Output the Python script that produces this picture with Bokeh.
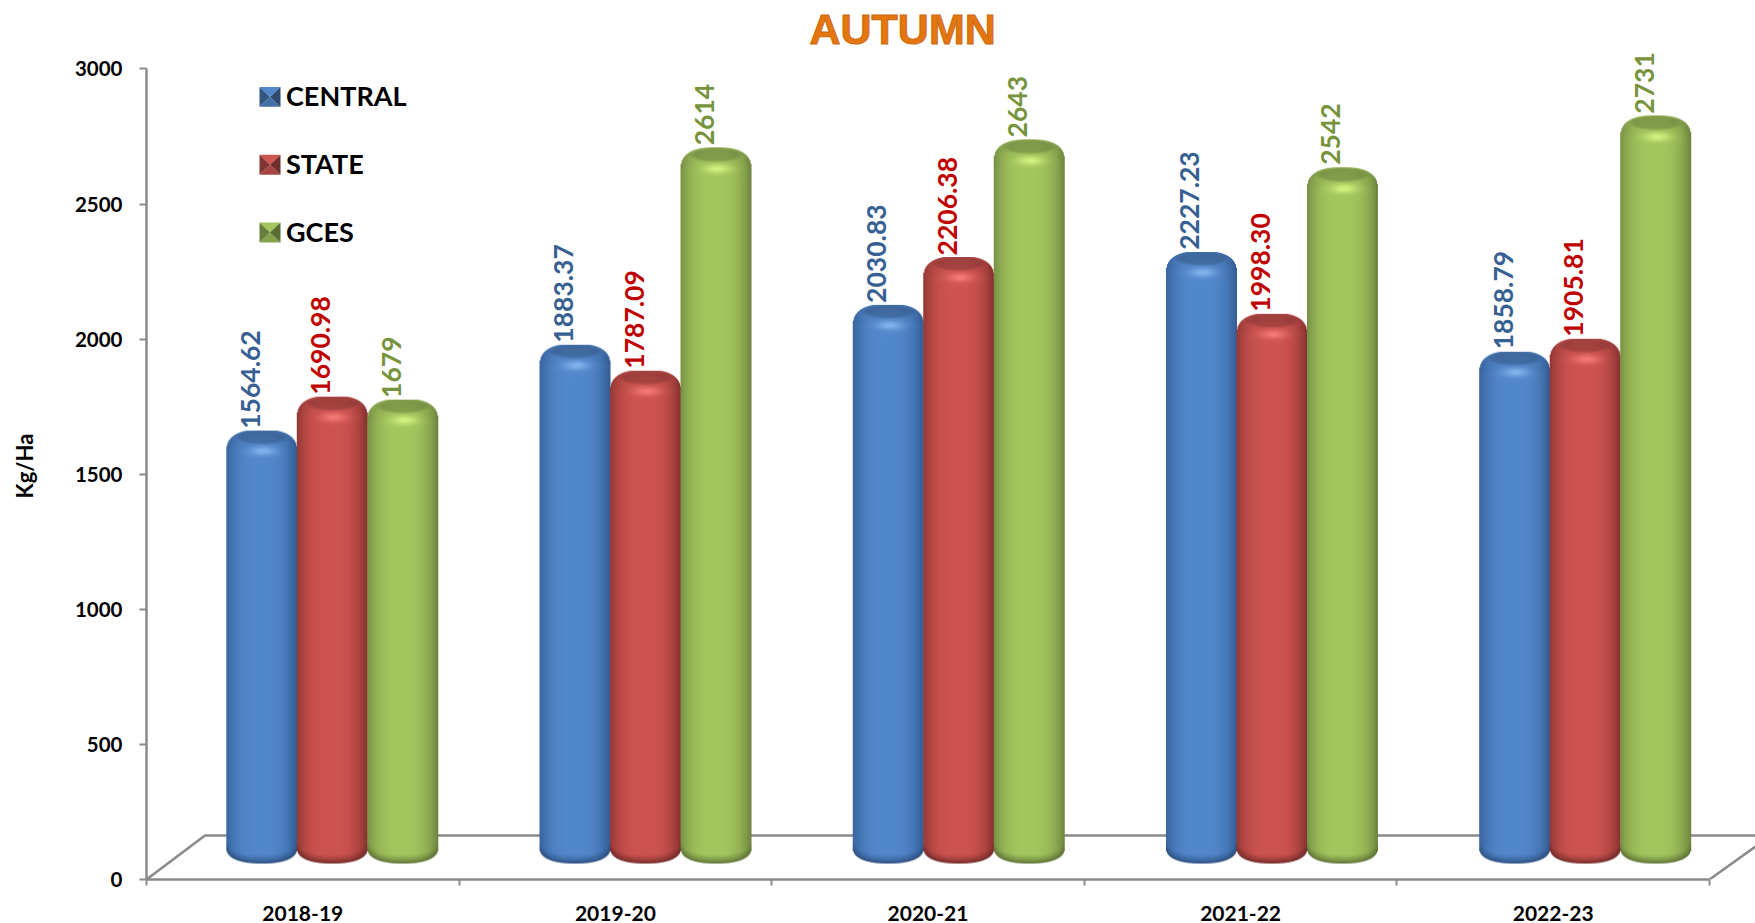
import numpy as np
from bokeh.plotting import figure
from bokeh.models import (ColumnDataSource, FixedTicker, Legend, LegendItem, Range1d, Title)
from bokeh.core.properties import value
from bokeh.embed import file_html
from bokeh.resources import INLINE

years = ["2018-19", "2019-20", "2020-21", "2021-22", "2022-23"]
central = [1564.62, 1883.37, 2030.83, 2227.23, 1858.79]
state = [1690.98, 1787.09, 2206.38, 1998.30, 1905.81]
gces = [1679, 2614, 2643, 2542, 2731]
central_labels = ["1564.62", "1883.37", "2030.83", "2227.23", "1858.79"]
state_labels = ["1690.98", "1787.09", "2206.38", "1998.30", "1905.81"]
gces_labels = ["1679", "2614", "2643", "2542", "2731"]
y_ticks = [0, 500, 1000, 1500, 2000, 2500, 3000]

FONT = "Lato"
W, H = 1755, 923
ML, MT = 146, 52
BASE = 881            # px of the zero line
MB = H - BASE
PX_X = 312.6          # px per category
PX_Y = (BASE - 68.5) / 3000.0   # px per value unit
AXIS = "#8a8a8a"

p = figure(width=W, height=H, output_backend="svg", toolbar_location=None,
           x_range=Range1d(0, (W - ML) / PX_X), y_range=Range1d(0, (BASE - MT) / PX_Y),
           min_border_left=ML, min_border_right=0, min_border_top=MT, min_border_bottom=MB)
p.grid.visible = False
p.outline_line_color = None
p.background_fill_color = None
p.border_fill_color = "white"

# axes
ax = p.xaxis[0]
ax.bounds = (0, 5)
ax.ticker = FixedTicker(ticks=[i + 0.5 for i in range(5)], minor_ticks=list(range(6)))
ax.major_label_overrides = {i + 0.5: years[i] for i in range(5)}
ax.major_tick_out = 0
ax.major_tick_in = 0
ax.minor_tick_out = 6
ax.minor_tick_in = 0
ax.minor_tick_line_color = AXIS
ax.minor_tick_line_width = 2
ax.axis_line_color = AXIS
ax.axis_line_width = 2.5
ax.major_label_text_font = FONT
ax.major_label_text_font_style = "bold"
ax.major_label_text_font_size = "21px"
ax.major_label_text_color = "black"
ax.major_label_standoff = 20

ay = p.yaxis[0]
ay.bounds = (0, 3000)
ay.ticker = FixedTicker(ticks=y_ticks)
ay.major_tick_out = 7
ay.major_tick_in = 0
ay.minor_tick_out = 0
ay.minor_tick_in = 0
ay.major_tick_line_color = AXIS
ay.major_tick_line_width = 2
ay.axis_line_color = AXIS
ay.axis_line_width = 2.5
ay.major_label_text_font = FONT
ay.major_label_text_font_style = "bold"
ay.major_label_text_font_size = "20.5px"
ay.major_label_text_color = "black"
ay.major_label_standoff = 17
ay.axis_label = "Kg/Ha"
ay.axis_label_text_font = FONT
ay.axis_label_text_font_style = "bold"
ay.axis_label_text_font_size = "22px"
ay.axis_label_text_color = "black"
ay.axis_label_standoff = 34

# floor of the 3D box
dx = 58.5 / PX_X
dy = 44 / PX_Y
rx = (W - ML) / PX_X
p.line([0, dx, rx], [0, dy, dy], line_color=AXIS, line_width=2.5)
p.line([5, rx], [0, 33 / PX_Y], line_color=AXIS, line_width=2.5)

BAR_W = 71 / PX_X
OFFS = [-70.5 / PX_X, 0.0, 70.5 / PX_X]
SHIFT = 29.5 / PX_X
STEP = 1.002
CAP_UP = 26 / PX_Y
FOOT = 16 / PX_Y
LABEL_UP = 28 / PX_Y
LABEL_LEFT = -11.5 / PX_X

PAL = {
    "CENTRAL": dict(mid=(82, 136, 204), edge=(50, 90, 146), lite=(136, 184, 240), text="#376092"),
    "STATE": dict(mid=(206, 84, 80), edge=(130, 48, 46), lite=(250, 126, 122), text="#C00000"),
    "GCES": dict(mid=(163, 198, 94), edge=(106, 130, 60), lite=(216, 248, 132), text="#77933C"),
}


def cylinder(px_w, px_h, pal):
    """RGBA raster of a rounded cylinder; row 0 is the bottom row."""
    ys, xs = np.mgrid[0:px_h, 0:px_w]
    yy = ys + 0.5                      # px above the foot
    u = (xs + 0.5) / px_w * 2 - 1
    au = np.minimum(np.abs(u), 1.0)
    top_h, bot_h = 23.0, 16.0
    top_edge = (px_h - top_h) + top_h * (1 - au ** 2.6) ** (1 / 2.6)
    bot_edge = bot_h - bot_h * (1 - au ** 2.4) ** (1 / 2.4)
    alpha = np.clip(top_edge - yy + 0.5, 0, 1) * np.clip(yy - bot_edge + 0.5, 0, 1)
    alpha *= np.clip((1 - np.abs(u)) * px_w / 2 + 0.5, 0, 1)

    shade = np.clip(1 - np.abs((u + 0.04) / 1.04) ** 3.0, 0, 1)
    mid = np.array(pal["mid"], float)
    edge = np.array(pal["edge"], float)
    lite = np.array(pal["lite"], float)
    rgb = edge + (mid - edge) * shade[..., None]

    # bottom rim darkens towards the foot
    d = np.clip((yy - bot_edge) / 9.0, 0, 1)
    rgb = edge * 0.82 + (rgb - edge * 0.82) * (d[..., None] ** 0.7)

    yc = px_h - top_h
    v = yy - yc
    # shoulder slightly darker towards the top
    rim = np.clip(v / top_h, 0, 1)[..., None]
    rgb = np.where(v[..., None] > 0, rgb * (1 - 0.07 * rim), rgb)
    # glow just under the rim
    g = np.exp(-((u - 0.04) / 0.36) ** 2 - ((yy - (yc + 1.5)) / 4.5) ** 2)[..., None]
    rgb = rgb + (lite - rgb) * g * 0.9
    # darker oval top face
    t_face = (u / 0.70) ** 2 + ((yy - (px_h - 7.5)) / 7.0) ** 2
    face = np.clip((1.25 - t_face) / 0.6, 0, 1)[..., None] * 0.17
    rgb = rgb * (1 - face)

    img = np.empty((px_h, px_w), dtype=np.uint32)
    view = img.view(dtype=np.uint8).reshape((px_h, px_w, 4))
    view[..., :3] = np.clip(rgb, 0, 255).astype(np.uint8)
    view[..., 3] = (alpha * 255).astype(np.uint8)
    return img


legend_items = []
series = [("CENTRAL", central, central_labels), ("STATE", state, state_labels), ("GCES", gces, gces_labels)]
for k, (name, vals, labs) in enumerate(series):
    pal = PAL[name]
    xc = [i * STEP + SHIFT + 0.5 + OFFS[k] for i in range(5)]
    src = ColumnDataSource(dict(x=xc, top=vals, lx=[x + LABEL_LEFT for x in xc],
                                ly=[v + LABEL_UP for v in vals], lab=labs))
    p.vbar(x="x", top="top", bottom=100, width=BAR_W * 0.7, source=src,
           fill_color="#%02x%02x%02x" % pal["mid"], line_color=None)
    # legend entry without a flat swatch: the bevelled swatch is drawn below
    proxy = p.vbar(x=[], top=[], width=BAR_W, fill_alpha=0, line_alpha=0)
    legend_items.append(LegendItem(label=name, renderers=[proxy]))
    images, xs, ys, dws, dhs = [], [], [], [], []
    for x, v in zip(xc, vals):
        top_val = v + CAP_UP
        px_h = int(round((top_val - FOOT) * PX_Y))
        images.append(cylinder(71, px_h, pal))
        xs.append(x - BAR_W / 2)
        ys.append(FOOT)
        dws.append(BAR_W)
        dhs.append(px_h / PX_Y)
    p.image_rgba(image=images, x=xs, y=ys, dw=dws, dh=dhs)
    p.text(x="lx", y="ly", text="lab", source=src, angle=np.pi / 2, text_align="left",
           text_baseline="middle", text_color=pal["text"], text_font=value(FONT),
           text_font_style="bold", text_font_size="26.5px")

# legend, placed in frame pixels
LEG_X, LEG_FIRST, LEG_STEP = 259, 96.5, 68
legend = Legend(items=legend_items, location=(LEG_X - ML - 4, BASE - (LEG_FIRST - 34 + 190)),
                orientation="vertical", background_fill_alpha=0, border_line_color=None,
                label_text_font=FONT, label_text_font_style="bold", label_text_font_size="27px",
                label_text_color="black", glyph_width=21, glyph_height=20, spacing=30,
                label_standoff=10, margin=0, padding=8, label_height=38)
p.add_layout(legend)


def dx_(px):
    return (px - ML) / PX_X


def dy_(py):
    return (BASE - py) / PX_Y


# bevel of the legend swatches
for k, (name, _, _) in enumerate(series):
    pal = PAL[name]
    mid = np.array(pal["mid"], float)
    x0, x1 = LEG_X, LEG_X + 21
    yc = LEG_FIRST + k * LEG_STEP
    y0, y1 = yc - 10, yc + 10
    cx, cy = (x0 + x1) / 2, yc
    tris = [
        ([x0, x1, cx], [y0, y0, cy], mid * 1.0),
        ([x0, x1, cx], [y1, y1, cy], mid * 0.82),
        ([x0, x0, cx], [y0, y1, cy], mid * 0.64),
        ([x1, x1, cx], [y0, y1, cy], mid * 0.55),
    ]
    for tx, ty, col in tris:
        c = tuple(int(min(v, 255)) for v in col)
        p.patch([dx_(t) for t in tx], [dy_(t) for t in ty], fill_color="#%02x%02x%02x" % c,
                line_color=None)

p.title = Title(text="AUTUMN", align="left", text_font="Liberation Sans", text_font_style="bold",
                text_font_size="43px", text_color="#E5760F", text_outline_color="#C96A12",
                text_line_height=1.0, standoff=-1, offset=809 - ML)

open("out.html", "w").write(file_html(p, INLINE))
